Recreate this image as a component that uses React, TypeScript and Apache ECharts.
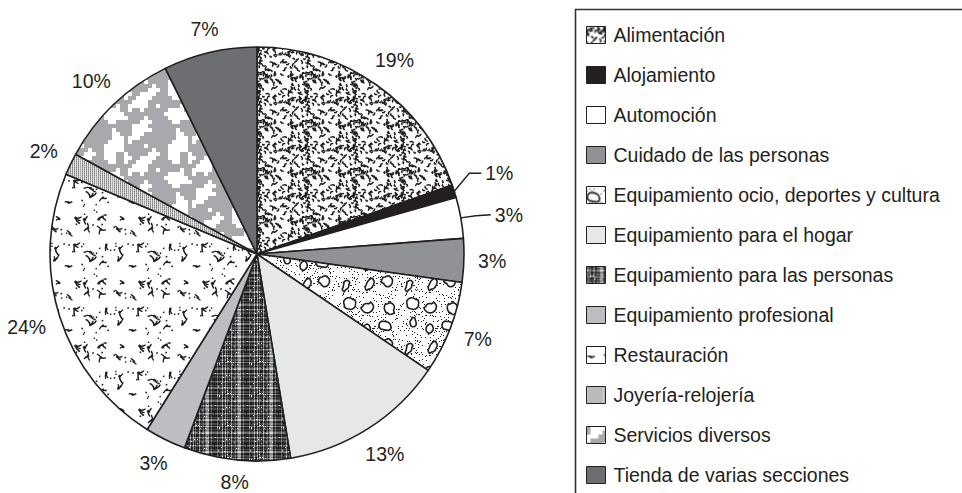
import React, { useEffect, useRef } from "react";
import * as echarts from "echarts";

// ---- data ----
const categories = [
  "Alimentación",
  "Alojamiento",
  "Automoción",
  "Cuidado de las personas",
  "Equipamiento ocio, deportes y cultura",
  "Equipamiento para el hogar",
  "Equipamiento para las personas",
  "Equipamiento profesional",
  "Restauración",
  "Joyería-relojería",
  "Servicios diversos",
  "Tienda de varias secciones",
];
// slice shares as drawn (measured from slice angles)
const shares = [19.6, 1.0, 3.2, 3.4, 7.3, 12.9, 8.3, 3.2, 22.4, 1.7, 9.7, 7.3];
// percentage labels as printed on the chart
const printedLabels = ["19%", "1%", "3%", "3%", "7%", "13%", "8%", "3%", "24%", "2%", "10%", "7%"];

// ---- texture helpers (decorative fills, seeded so they are stable) ----
function seeded(seed: number) {
  let a = seed;
  return () => {
    a |= 0;
    a = (a + 0x6d2b79f5) | 0;
    let t = Math.imul(a ^ (a >>> 15), 1 | a);
    t = (t + Math.imul(t ^ (t >>> 7), 61 | t)) ^ t;
    return ((t ^ (t >>> 14)) >>> 0) / 4294967296;
  };
}

function makeTile(w: number, h: number, draw: (ctx: CanvasRenderingContext2D, w: number, h: number) => void) {
  const c = document.createElement("canvas");
  c.width = w;
  c.height = h;
  const ctx = c.getContext("2d") as CanvasRenderingContext2D;
  draw(ctx, w, h);
  return { image: c, repeat: "repeat", imageWidth: w, imageHeight: h } as any;
}

function wrapped(ctx: CanvasRenderingContext2D, w: number, h: number, fn: () => void) {
  for (const ox of [-w, 0, w]) {
    for (const oy of [-h, 0, h]) {
      ctx.save();
      ctx.translate(ox, oy);
      fn();
      ctx.restore();
    }
  }
}

const INK = "#231f20";

function speckleFill() {
  return makeTile(48, 48, (ctx, w, h) => {
    const r = seeded(11);
    ctx.fillStyle = "#fff";
    ctx.fillRect(0, 0, w, h);
    ctx.strokeStyle = INK;
    ctx.lineCap = "round";
    ctx.lineWidth = 1.5;
    for (let i = 0; i < 150; i++) {
      const x = r() * w, y = r() * h;
      const a = r() * Math.PI * 2;
      const l = 1.5 + r() * 2.2;
      const bx = x + Math.cos(a + 1) * 1.5, by = y + Math.sin(a + 1) * 1.5;
      const ex = x + Math.cos(a) * l, ey = y + Math.sin(a) * l;
      wrapped(ctx, w, h, () => {
        ctx.beginPath();
        ctx.moveTo(x, y);
        ctx.quadraticCurveTo(bx, by, ex, ey);
        ctx.stroke();
      });
    }
  });
}

function blobFill() {
  return makeTile(63, 63, (ctx, w, h) => {
    const r = seeded(23);
    ctx.fillStyle = "#fff";
    ctx.fillRect(0, 0, w, h);
    ctx.fillStyle = INK;
    for (let i = 0; i < 300; i++) {
      const x = Math.floor(r() * w), y = Math.floor(r() * h);
      ctx.fillRect(x, y, 1, 1);
    }
    ctx.lineWidth = 1.6;
    ctx.strokeStyle = INK;
    const cell = w / 3;
    for (let gx = 0; gx < 3; gx++) {
      for (let gy = 0; gy < 3; gy++) {
        const cx = gx * cell + cell / 2 + (r() - 0.5) * 7;
        const cy = gy * cell + cell / 2 + (r() - 0.5) * 7;
        const rx = 3.8 + r() * 3.2;
        const ry = 3.2 + r() * 2.6;
        const rot = r() * Math.PI;
        const k: number[] = [];
        for (let j = 0; j < 6; j++) k.push(0.7 + r() * 0.5);
        wrapped(ctx, w, h, () => {
          ctx.beginPath();
          for (let j = 0; j <= 24; j++) {
            const t = (j / 24) * Math.PI * 2;
            const f = k[Math.floor(j / 4) % 6];
            const px = Math.cos(t) * rx * f, py = Math.sin(t) * ry * f;
            const X = cx + px * Math.cos(rot) - py * Math.sin(rot);
            const Y = cy + px * Math.sin(rot) + py * Math.cos(rot);
            if (j === 0) ctx.moveTo(X, Y);
            else ctx.lineTo(X, Y);
          }
          ctx.closePath();
          ctx.fillStyle = "#fff";
          ctx.fill();
          ctx.stroke();
        });
      }
    }
  });
}

function plaidFill() {
  return makeTile(32, 32, (ctx, w, h) => {
    const r = seeded(37);
    ctx.fillStyle = "#4a4a4a";
    ctx.fillRect(0, 0, w, h);
    for (let x = 0; x < w; x++) {
      const v = r();
      ctx.fillStyle = v < 0.45 ? "#111" : v < 0.7 ? "#333" : v < 0.88 ? "#aaa" : "#fff";
      ctx.globalAlpha = 0.65;
      ctx.fillRect(x, 0, 1, h);
    }
    for (let y = 0; y < h; y++) {
      const v = r();
      ctx.fillStyle = v < 0.5 ? "#000" : v < 0.8 ? "#777" : "#fff";
      ctx.globalAlpha = 0.3;
      ctx.fillRect(0, y, w, 1);
    }
    ctx.globalAlpha = 1;
    for (let i = 0; i < 40; i++) {
      ctx.fillStyle = r() < 0.6 ? "#fff" : "#000";
      ctx.fillRect(Math.floor(r() * w), Math.floor(r() * h), 1, 1);
    }
  });
}

function squiggleFill() {
  return makeTile(64, 64, (ctx, w, h) => {
    const r = seeded(53);
    ctx.fillStyle = "#fff";
    ctx.fillRect(0, 0, w, h);
    ctx.strokeStyle = INK;
    ctx.fillStyle = INK;
    ctx.lineCap = "round";
    const cell = 16;
    for (let gx = 0; gx < 4; gx++) {
      for (let gy = 0; gy < 4; gy++) {
        const cx = gx * cell + cell / 2 + (r() - 0.5) * 8;
        const cy = gy * cell + cell / 2 + (r() - 0.5) * 8;
        const n = 2 + Math.floor(r() * 2);
        const arms: number[][] = [];
        for (let j = 0; j < n; j++) {
          const a = r() * Math.PI * 2;
          const l = 3 + r() * 4.5;
          arms.push([cx + Math.cos(a) * l, cy + Math.sin(a) * l, cx + Math.cos(a + 0.5) * l * 0.5, cy + Math.sin(a + 0.5) * l * 0.5]);
        }
        const d1 = [r() * w, r() * h];
        const d2 = [r() * w, r() * h];
        wrapped(ctx, w, h, () => {
          ctx.lineWidth = 1.4;
          for (const arm of arms) {
            ctx.beginPath();
            ctx.moveTo(cx, cy);
            ctx.quadraticCurveTo(arm[2], arm[3], arm[0], arm[1]);
            ctx.stroke();
          }
          ctx.beginPath();
          ctx.arc(cx, cy, 1.3, 0, Math.PI * 2);
          ctx.fill();
          ctx.fillRect(d1[0], d1[1], 1.6, 1.6);
          ctx.fillRect(d2[0], d2[1], 1.4, 1.4);
        });
      }
    }
  });
}

function stripeFill() {
  return makeTile(16, 16, (ctx, w, h) => {
    const r = seeded(71);
    ctx.fillStyle = "#b4b5b8";
    ctx.fillRect(0, 0, w, h);
    for (let x = 0; x < w; x++) {
      ctx.fillStyle = x % 2 === 0 ? (r() < 0.7 ? "#777" : "#999") : "#e8e8e8";
      ctx.globalAlpha = 0.8;
      ctx.fillRect(x, 0, 1, h);
    }
    for (let y = 0; y < h; y += 2) {
      ctx.fillStyle = "#fff";
      ctx.globalAlpha = 0.25;
      ctx.fillRect(0, y, w, 1);
    }
    ctx.globalAlpha = 1;
  });
}

function mazeFill() {
  return makeTile(64, 64, (ctx, w, h) => {
    const r = seeded(97);
    const n = 16, c = 4;
    let g: number[][] = [];
    for (let i = 0; i < n; i++) {
      g.push([]);
      for (let j = 0; j < n; j++) g[i].push(r() < 0.5 ? 1 : 0);
    }
    const g2: number[][] = [];
    for (let i = 0; i < n; i++) {
      g2.push([]);
      for (let j = 0; j < n; j++) {
        let s = 0;
        for (let di = -1; di <= 1; di++)
          for (let dj = -1; dj <= 1; dj++) s += g[(i + di + n) % n][(j + dj + n) % n];
        g2[i].push(s >= 5 ? 1 : s <= 3 ? 0 : g[i][j]);
      }
    }
    g = g2;
    ctx.fillStyle = "#fff";
    ctx.fillRect(0, 0, w, h);
    ctx.fillStyle = "#a7a9ac";
    for (let i = 0; i < n; i++)
      for (let j = 0; j < n; j++) if (g[i][j]) ctx.fillRect(i * c, j * c, c, c);
  });
}

export default function App() {
  const ref = useRef<HTMLDivElement>(null);

  useEffect(() => {
    document.body.style.margin = "0";
    const chart = echarts.init(ref.current as HTMLDivElement, undefined, { renderer: "svg" });

    const fills: any[] = [
      speckleFill(),
      "#231f20",
      "#ffffff",
      "#919295",
      blobFill(),
      "#e6e7e8",
      plaidFill(),
      "#bdbec1",
      squiggleFill(),
      stripeFill(),
      mazeFill(),
      "#6d6e71",
    ];

    const cx = 257, cy = 254, radius = 207, labelGap = 14;
    const total = shares.reduce((a, b) => a + b, 0);
    const midAngle = (i: number) => {
      let before = 0;
      for (let k = 0; k < i; k++) before += shares[k];
      return ((before + shares[i] / 2) / total) * Math.PI * 2;
    };
    const guided: Record<number, number[][]> = {
      1: [[15, -18], [27, -18]],
      2: [[15, -2], [30, -3]],
    };

    const data = categories.map((name, i) => ({
      name,
      value: shares[i],
      itemStyle: { color: fills[i] },
      labelLine: { show: guided[i] !== undefined },
    }));

    const font = "'Liberation Sans Narrow', 'Arial Narrow', 'Liberation Sans', Arial, sans-serif";

    chart.setOption({
      animation: false,
      backgroundColor: "#ffffff",
      legend: {
        orient: "vertical",
        left: 586,
        top: 25,
        padding: 0,
        itemWidth: 19,
        itemHeight: 17,
        itemGap: 20,
        icon: "rect",
        selectedMode: false,
        itemStyle: { borderColor: INK, borderWidth: 1 },
        textStyle: {
          fontFamily: font,
          fontSize: 19.5,
          lineHeight: 20,
          color: INK,
          padding: [0, 0, 0, 3],
        },
        data: categories,
      },
      graphic: [
        {
          type: "rect",
          left: 573,
          top: 7,
          shape: { width: 388, height: 520 },
          style: { fill: "none", stroke: "#333", lineWidth: 1.6 },
          silent: true,
        },
      ],
      series: [
        {
          type: "pie",
          center: [cx, cy],
          radius: radius,
          startAngle: 90,
          clockwise: true,
          avoidLabelOverlap: false,
          emphasis: { disabled: true },
          itemStyle: { borderColor: INK, borderWidth: 1.6 },
          label: {
            show: true,
            position: "outside",
            formatter: (p: any) => printedLabels[p.dataIndex],
            fontFamily: font,
            fontSize: 19.5,
            color: INK,
          },
          labelLine: {
            show: false,
            length: 14,
            length2: 12,
            lineStyle: { color: INK, width: 1.3 },
          },
          labelLayout: (p: any) => {
            const i = p.dataIndex;
            const a = midAngle(i);
            const sx = Math.sin(a), sy = -Math.cos(a);
            if (guided[i]) {
              const x0 = cx + radius * sx, y0 = cy + radius * sy;
              const [o1, o2] = guided[i];
              const p1 = [x0 + o1[0], y0 + o1[1]];
              const p2 = [x0 + o2[0], y0 + o2[1]];
              return {
                x: p2[0] + 4,
                y: p2[1],
                align: "left",
                verticalAlign: "middle",
                labelLinePoints: [[x0, y0], p1, p2],
              };
            }
            const w = p.labelRect ? p.labelRect.width : 30;
            const h = p.labelRect ? p.labelRect.height * 0.7 : 14;
            const ext = Math.abs(sx) * (w / 2) + Math.abs(sy) * (h / 2);
            const d = radius + labelGap + ext;
            return {
              x: cx + d * sx,
              y: cy + d * sy,
              align: "center",
              verticalAlign: "middle",
            };
          },
          data,
        },
      ],
    });

    return () => chart.dispose();
  }, []);

  return <div ref={ref} style={{ width: 962, height: 493 }} />;
}
